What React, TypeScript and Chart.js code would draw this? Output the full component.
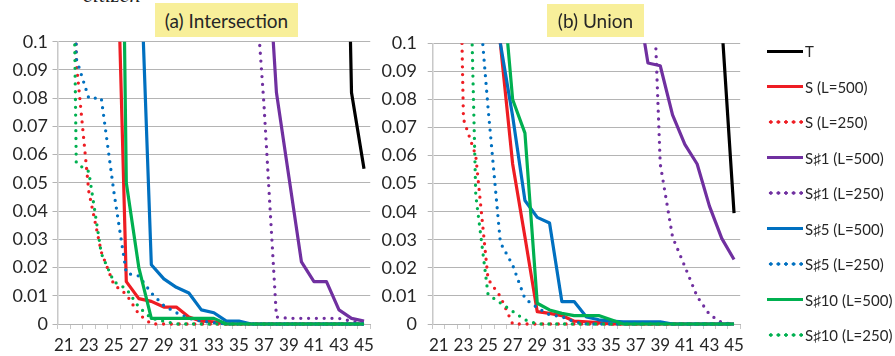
import React, { useEffect, useRef } from 'react';
import { Chart, registerables } from 'chart.js';

Chart.register(...registerables);

const n = null;

// x categories (also the x tick labels; every other one is shown)
const categories = ['21', '22', '23', '24', '25', '26', '27', '28', '29', '30', '31', '32', '33', '34', '35', '36', '37', '38', '39', '40', '41', '42', '43', '44', '45'];
// y tick labels, 0 .. 0.1 in steps of 0.01
const yTickLabels = ['0', '0.01', '0.02', '0.03', '0.04', '0.05', '0.06', '0.07', '0.08', '0.09', '0.1'];

const seriesLabels = ['T', 'S (L=500)', 'S (L=250)', 'S\u266F1 (L=500)', 'S\u266F1 (L=250)', 'S\u266F5 (L=500)', 'S\u266F5 (L=250)', 'S\u266F10 (L=500)', 'S\u266F10 (L=250)'];
const seriesColors = ['#000000', '#EE1D23', '#EE1D23', '#7030A0', '#7030A0', '#0070C0', '#0070C0', '#00B050', '#00B050'];
const seriesDotted = [false, false, true, false, true, false, true, false, true];

const panelTitles = ['(a) Intersection', '(b) Union'];

// ---- (a) Intersection ----  index 0 = 21 ... index 24 = 45
const interT = [n, n, n, n, n, n, n, n, n, n, n, n, n, n, n, n, n, n, n, n, n, n, 0.30, 0.082, 0.055];
const interS500 = [n, n, n, n, 0.18, 0.015, 0.009, 0.008, 0.006, 0.006, 0.0025, 0.001, 0.0008, 0, 0, 0, 0, 0, 0, 0, 0, 0, 0, 0, 0];
const interS250 = [0.45, 0.093, 0.047, 0.0255, 0.014, 0.0105, 0.0035, 0, 0, 0, 0, 0, 0, 0, 0, 0, 0, 0, 0, 0, 0, 0, 0, 0, 0];
const interS1_500 = [n, n, n, n, n, n, n, n, n, n, n, n, n, n, n, n, 0.153, 0.082, 0.052, 0.022, 0.015, 0.015, 0.005, 0.002, 0.001];
const interS1_250 = [n, n, n, n, n, n, n, n, n, n, n, n, n, n, n, 0.14, 0.078, 0.0025, 0.002, 0.002, 0.002, 0.002, 0.002, 0.001, 0];
const interS5_500 = [n, n, n, n, n, n, 0.145, 0.021, 0.016, 0.013, 0.011, 0.005, 0.004, 0.001, 0.001, 0, 0, 0, 0, 0, 0, 0, 0, 0, 0];
const interS5_250 = [0.45, 0.094, 0.08, 0.08, 0.047, 0.018, 0.017, 0.011, 0.0065, 0.004, 0.002, 0.001, 0.0005, 0, 0, 0, 0, 0, 0, 0, 0, 0, 0, 0, 0];
const interS10_500 = [n, n, n, n, 0.4, 0.05, 0.02, 0.002, 0.002, 0.002, 0.002, 0.002, 0.002, 0, 0, 0, 0, 0, 0, 0, 0, 0, 0, 0, 0];
const interS10_250 = [0.4, 0.057, 0.054, 0.025, 0.015, 0.0125, 0.006, 0.002, 0.001, 0, 0, 0, 0, 0, 0, 0, 0, 0, 0, 0, 0, 0, 0, 0, 0];

// ---- (b) Union ----
const unionT = [n, n, n, n, n, n, n, n, n, n, n, n, n, n, n, n, n, n, n, n, n, n, 0.2, 0.107, 0.0395];
const unionS500 = [n, n, n, n, 0.3, 0.1, 0.057, 0.031, 0.0044, 0.0038, 0.003, 0.001, 0.0008, 0.0005, 0, 0, 0, 0, 0, 0, 0, 0, 0, 0, 0];
const unionS250 = [n, 0.3, 0.073, 0.06, 0.016, 0.0098, 0, 0, 0, 0, 0, 0, 0, 0, 0, 0, 0, 0, 0, 0, 0, 0, 0, 0, 0];
const unionS1_500 = [n, n, n, n, n, n, n, n, n, n, n, n, n, n, n, n, 0.12, 0.093, 0.092, 0.0745, 0.064, 0.057, 0.042, 0.0305, 0.023];
const unionS1_250 = [n, n, n, n, n, n, n, n, n, n, n, n, n, n, n, n, n, 0.173, 0.057, 0.031, 0.0205, 0.0098, 0.0034, 0.0005, 0];
const unionS5_500 = [n, n, n, n, 0.3, 0.1, 0.074, 0.044, 0.038, 0.036, 0.008, 0.008, 0.0025, 0.0015, 0.001, 0.0008, 0.0008, 0.0008, 0.0008, 0, 0, 0, 0, 0, 0];
const unionS5_250 = [n, n, n, 0.13, 0.077, 0.029, 0.021, 0.009, 0.0058, 0.0033, 0.0026, 0.0008, 0, 0, 0, 0, 0, 0, 0, 0, 0, 0, 0, 0, 0];
const unionS10_500 = [n, n, n, n, n, 0.13, 0.08, 0.068, 0.0074, 0.005, 0.0038, 0.003, 0.003, 0.003, 0.0015, 0, 0, 0, 0, 0, 0, 0, 0, 0, 0];
const unionS10_250 = [n, n, 0.23, 0.046, 0.0105, 0.0075, 0.0045, 0.0015, 0, 0, 0, 0, 0, 0, 0, 0, 0, 0, 0, 0, 0, 0, 0, 0, 0];

const interSeries = [interT, interS500, interS250, interS1_500, interS1_250, interS5_500, interS5_250, interS10_500, interS10_250];
const unionSeries = [unionT, unionS500, unionS250, unionS1_500, unionS1_250, unionS5_500, unionS5_250, unionS10_500, unionS10_250];

const FONT = "Lato, 'Noto Sans', sans-serif";
const TEXT = '#262626';
const GRID = '#b4b4b4';
const AXIS = '#c8c8c8';
const H = 356;

function buildDatasets(series: (number | null)[][]) {
  return series.map((values, i) => ({
    label: seriesLabels[i],
    data: values,
    borderColor: seriesColors[i],
    backgroundColor: seriesColors[i],
    borderWidth: seriesDotted[i] ? 3.3 : 3.2,
    borderDash: seriesDotted[i] ? [0, 7.8] : [],
    borderCapStyle: seriesDotted[i] ? 'round' : 'butt',
    borderJoinStyle: 'round',
    pointRadius: 0,
    pointHoverRadius: 0,
    tension: 0,
    fill: false,
    spanGaps: false,
    order: -i,
    clip: { left: 0, top: 0, right: 4, bottom: 4 },
  }));
}

type PanelProps = {
  series: (number | null)[][];
  left: number;
  width: number;
  areaLeft: number;
  areaRight: number;
  areaTop: number;
  yLabelPad: number;
};

function Panel({ series, left, width, areaLeft, areaRight, areaTop, yLabelPad }: PanelProps) {
  const ref = useRef<HTMLCanvasElement>(null);
  useEffect(() => {
    const chart = new Chart(ref.current as HTMLCanvasElement, {
      type: 'line',
      data: { labels: categories, datasets: buildDatasets(series) as any },
      options: {
        animation: false,
        responsive: false,
        maintainAspectRatio: false,
        devicePixelRatio: 1,
        events: [],
        layout: { padding: { left: 0, right: width - areaRight, top: areaTop, bottom: 0 } },
        plugins: {
          legend: { display: false },
          title: { display: false },
          tooltip: { enabled: false },
        },
        scales: {
          x: {
            type: 'category',
            offset: true,
            grid: { offset: true, drawOnChartArea: false, drawTicks: true, tickLength: 5, color: AXIS, lineWidth: 1 },
            border: { display: true, color: GRID, width: 1 },
            ticks: {
              autoSkip: false,
              maxRotation: 0,
              minRotation: 0,
              padding: 6,
              color: TEXT,
              font: { family: FONT, size: 17 },
              callback: (_v: any, i: number) => (i % 2 === 0 ? categories[i] : ''),
            },
            afterFit: (s: any) => {
              s.height = H - 324;
            },
          },
          y: {
            min: 0,
            max: 0.1,
            ticks: {
              stepSize: 0.01,
              padding: yLabelPad,
              color: TEXT,
              font: { family: FONT, size: 18 },
              callback: (v: any) => yTickLabels[Math.round(Number(v) * 100)],
            },
            grid: { color: GRID, lineWidth: 1, drawTicks: true, tickLength: 5 },
            border: { display: true, color: AXIS, width: 1.5 },
            afterFit: (s: any) => {
              s.width = areaLeft;
            },
          },
        },
      } as any,
    });
    return () => chart.destroy();
  }, []);
  return (
    <canvas
      ref={ref}
      width={width}
      height={H}
      style={{ position: 'absolute', left, top: 0, width, height: H }}
    />
  );
}

function TitleBox({ text, x, y, w, h }: { text: string; x: number; y: number; w: number; h: number }) {
  return (
    <div
      style={{
        position: 'absolute',
        left: x,
        top: y,
        width: w,
        height: h,
        background: '#F8EF9A',
        display: 'flex',
        alignItems: 'center',
        justifyContent: 'center',
        fontFamily: FONT,
        fontSize: 19,
        color: TEXT,
        whiteSpace: 'nowrap',
      }}
    >
      {text}
    </div>
  );
}

function Legend() {
  return (
    <>
      {seriesLabels.map((label, i) => {
        const cy = 51 + i * 35.5;
        const color = seriesColors[i];
        const sample = seriesDotted[i]
          ? {
              backgroundImage: `radial-gradient(circle, ${color} 1.5px, transparent 1.9px)`,
              backgroundSize: '7.6px 4px',
              backgroundRepeat: 'repeat-x',
              backgroundPosition: '0 0',
              height: 4,
              top: cy - 2,
            }
          : { background: color, height: 3, top: cy - 1.5 };
        return (
          <React.Fragment key={label}>
            <div style={{ position: 'absolute', left: 767, width: 36, ...sample }} />
            <div
              style={{
                position: 'absolute',
                left: 805,
                top: cy - 10,
                height: 20,
                lineHeight: '20px',
                fontFamily: FONT,
                fontSize: 15,
                color: TEXT,
                whiteSpace: 'nowrap',
              }}
            >
              {label}
            </div>
          </React.Fragment>
        );
      })}
    </>
  );
}

export default function App() {
  return (
    <div
      style={{
        position: 'absolute',
        left: 0,
        top: 0,
        width: 895,
        height: H,
        overflow: 'hidden',
        background: '#ffffff',
      }}
    >
      <div
        style={{
          position: 'absolute',
          left: 83,
          top: -16,
          fontFamily: "'Liberation Serif', 'DejaVu Serif', serif",
          fontStyle: 'italic',
          fontSize: 22,
          lineHeight: '22px',
          color: '#222',
        }}
      >
        citizen
      </div>
      <Panel series={interSeries} left={0} width={380} areaLeft={57.5} areaRight={373.5} areaTop={41.7} yLabelPad={4.5} />
      <Panel series={unionSeries} left={378} width={372} areaLeft={54.7} areaRight={367} areaTop={43.3} yLabelPad={10.7} />
      <TitleBox text={panelTitles[0]} x={155} y={3} w={143} h={34} />
      <TitleBox text={panelTitles[1]} x={547} y={4} w={97} h={33} />
      <Legend />
    </div>
  );
}
